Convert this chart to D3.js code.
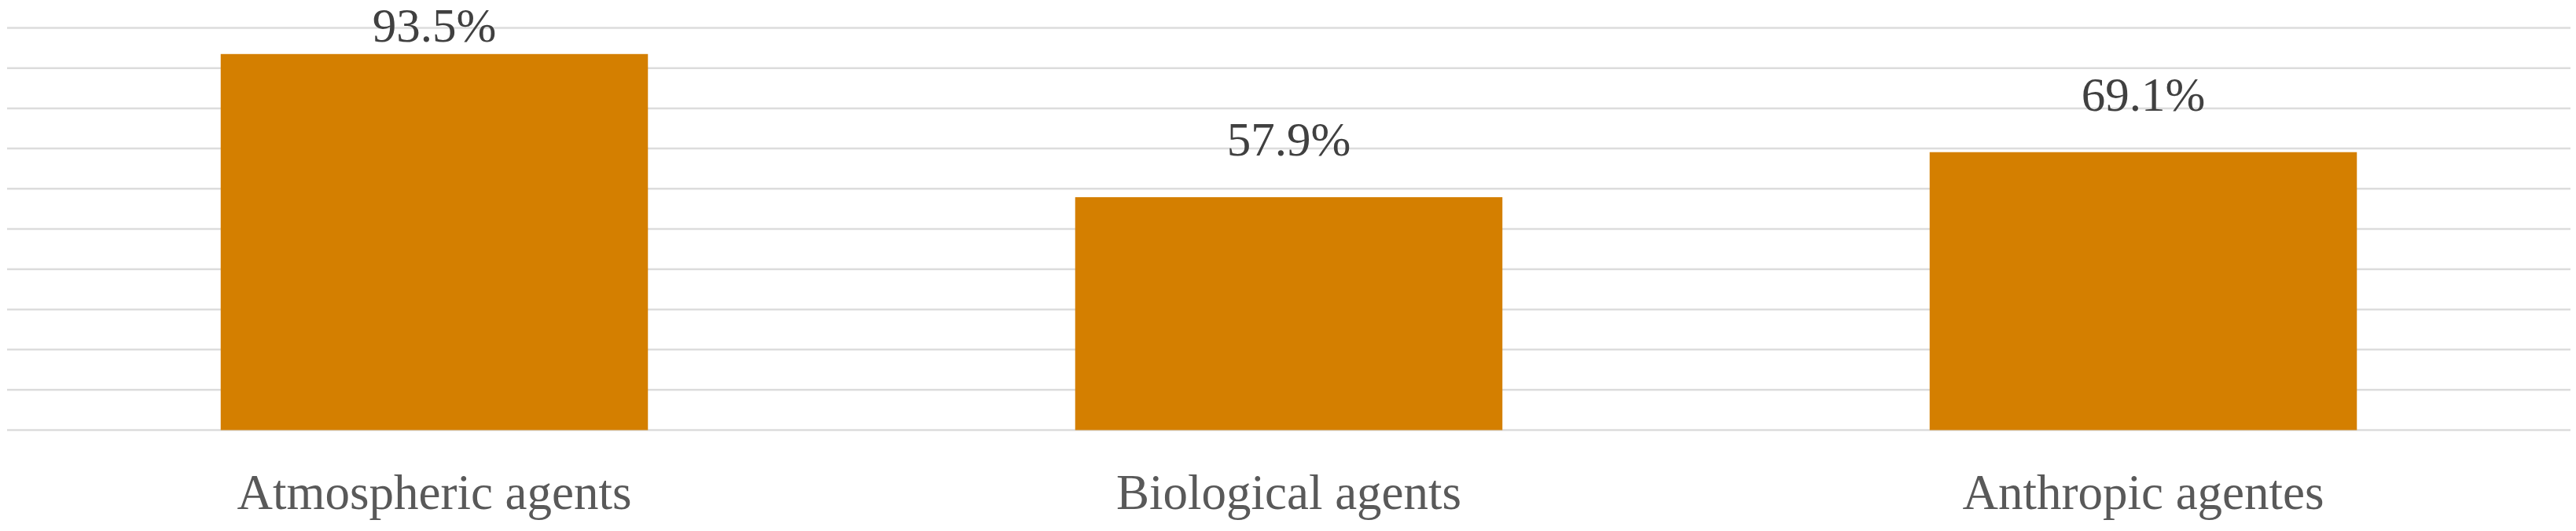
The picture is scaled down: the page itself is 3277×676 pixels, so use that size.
<!DOCTYPE html>
<html>
<head>
<meta charset="utf-8">
<script src="https://cdn.jsdelivr.net/npm/d3@7"></script>
<style>
  html, body { margin: 0; padding: 0; background: #ffffff; }
  svg { display: block; }
</style>
</head>
<body>
<svg id="chart" width="3277" height="676"></svg>
<script>
const categories = ["Atmospheric agents", "Biological agents", "Anthropic agentes"];
const values = [0.935, 0.579, 0.691];
const valueLabels = ["93.5%", "57.9%", "69.1%"];
const gridTicks = [0, 0.1, 0.2, 0.3, 0.4, 0.5, 0.6, 0.7, 0.8, 0.9, 1.0];

const W = 3277, H = 676;
const margin = { left: 9, right: 7, top: 35.5, bottom: 128.5 };
const svg = d3.select("#chart");

const x = d3.scaleBand()
  .domain(categories)
  .range([margin.left, W - margin.right])
  .paddingInner(0.5)
  .paddingOuter(0.25);

const y = d3.scaleLinear()
  .domain([0, 1])
  .range([H - margin.bottom, margin.top]);

// gridlines
svg.append("g")
  .selectAll("line")
  .data(gridTicks)
  .join("line")
  .attr("x1", margin.left)
  .attr("x2", W - margin.right)
  .attr("y1", d => y(d))
  .attr("y2", d => y(d))
  .attr("stroke", "#dcdcdc")
  .attr("stroke-width", 2.5);

// bars
svg.append("g")
  .selectAll("rect")
  .data(values)
  .join("rect")
  .attr("x", (d, i) => x(categories[i]))
  .attr("y", d => y(d))
  .attr("width", x.bandwidth())
  .attr("height", d => y(0) - y(d))
  .attr("fill", "#D47F00");

// value labels
svg.append("g")
  .selectAll("text")
  .data(values)
  .join("text")
  .attr("x", (d, i) => x(categories[i]) + x.bandwidth() / 2)
  .attr("y", d => Math.max(y(d) - 53, 53))
  .attr("text-anchor", "middle")
  .attr("font-family", "'Liberation Serif', 'Times New Roman', serif")
  .attr("font-size", 61)
  .attr("fill", "#404040")
  .text((d, i) => valueLabels[i]);

// category axis labels
svg.append("g")
  .selectAll("text")
  .data(categories)
  .join("text")
  .attr("x", d => x(d) + x.bandwidth() / 2)
  .attr("y", 648)
  .attr("text-anchor", "middle")
  .attr("font-family", "'Liberation Serif', 'Times New Roman', serif")
  .attr("font-size", 63)
  .attr("fill", "#595959")
  .text(d => d);
</script>
</body>
</html>
